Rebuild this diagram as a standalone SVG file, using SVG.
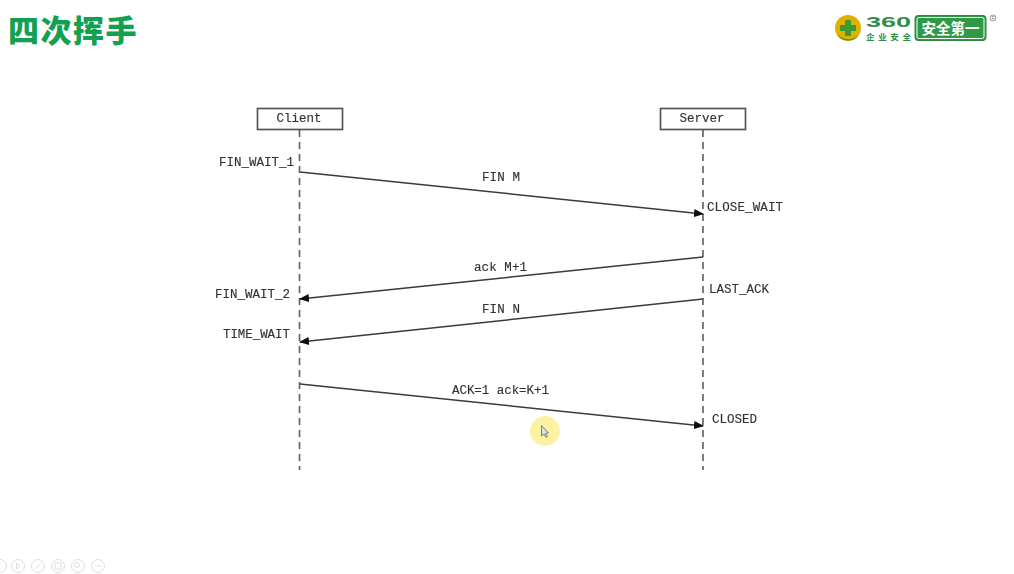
<svg xmlns="http://www.w3.org/2000/svg" width="1014" height="574" viewBox="0 0 1014 574">
<style>
.t{font-family:"Liberation Mono","DejaVu Sans Mono",monospace;font-size:12.5px;fill:#333;stroke:#333;stroke-width:0.15}
.m{text-anchor:middle}
.box{fill:#fff;stroke:#555;stroke-width:1.7}
.life{stroke:#666;stroke-width:1.7;stroke-dasharray:7 5;fill:none}
.msg{stroke:#3a3a3a;stroke-width:1.5;fill:none;marker-end:url(#a)}
.c{fill:none;stroke:#dedede;stroke-width:1}
</style>
<defs>
<marker id="a" markerUnits="userSpaceOnUse" markerWidth="10" markerHeight="8" refX="9" refY="4" orient="auto"><path d="M0 0L10 4L0 8Z" fill="#111"/></marker>
<filter id="b" x="-5%" y="-5%" width="110%" height="110%"><feGaussianBlur stdDeviation="0.45"/></filter>
</defs>
<rect width="1014" height="574" fill="#fff"/>
<text x="8" y="42" font-family="'Noto Sans CJK SC',sans-serif" font-weight="900" font-size="31" letter-spacing="1.5" fill="#12a150">四次挥手</text>
<g id="logo">
<circle cx="848" cy="28" r="13" fill="#e2b100"/>
<path d="M837 34A13 13 0 0 0 859 35A15 15 0 0 1 837 34Z" fill="#2f9b3a"/>
<path d="M845 20h6v5h5v6h-5v5h-6v-5h-5v-6h5z" fill="#3c9a36"/>
<text x="866" y="27" font-family="'Liberation Sans',sans-serif" font-weight="700" font-size="14.500" textLength="45" lengthAdjust="spacingAndGlyphs" fill="#2f8f4a">360</text>
<text x="866" y="40" font-family="'Noto Sans CJK SC',sans-serif" font-weight="700" font-size="8.500" textLength="45" fill="#2f8f4a">企业安全</text>
<rect x="915" y="15.500" width="71" height="25" rx="3" fill="#2e9a45" stroke="#2a8a3e" stroke-width="1"/>
<rect x="917" y="17.500" width="67" height="21" rx="2" fill="none" stroke="#fff" stroke-width="1"/>
<text x="950.500" y="33.500" text-anchor="middle" font-family="'Noto Sans CJK SC',sans-serif" font-weight="700" font-size="14.500" fill="#fff">安全第一</text>
<circle cx="993" cy="18" r="3" fill="none" stroke="#777" stroke-width="0.7"/>
<text x="993" y="20" text-anchor="middle" font-family="'Liberation Sans',sans-serif" font-size="4.500" fill="#777">R</text>
</g>
<g filter="url(#b)">
<g id="connectors">
<line class="life" x1="299.500" y1="130" x2="299.500" y2="470"/>
<line class="life" x1="703" y1="130" x2="703" y2="470"/>
<line class="msg" x1="300" y1="172" x2="703" y2="214"/>
<line class="msg" x1="703" y1="257" x2="300" y2="299"/>
<line class="msg" x1="703" y1="299" x2="300" y2="342"/>
<line class="msg" x1="300" y1="384" x2="703" y2="426"/>
</g>
<g id="client"><rect class="box" x="257.500" y="108.500" width="85" height="21"/><text class="t m" x="299" y="122">Client</text></g>
<g id="server"><rect class="box" x="660.500" y="108.500" width="85" height="21"/><text class="t m" x="702" y="122">Server</text></g>
<g id="labels">
<text class="t" x="219" y="166" textLength="75">FIN_WAIT_1</text>
<text class="t" x="215" y="298" textLength="75">FIN_WAIT_2</text>
<text class="t" x="223" y="338" textLength="67">TIME_WAIT</text>
<text class="t" x="707" y="211" textLength="76">CLOSE_WAIT</text>
<text class="t" x="709" y="293" textLength="60">LAST_ACK</text>
<text class="t" x="712" y="423" textLength="45">CLOSED</text>
<text class="t" x="482" y="181" textLength="38">FIN M</text>
<text class="t" x="474" y="271" textLength="53">ack M+1</text>
<text class="t" x="482" y="313" textLength="38">FIN N</text>
<text class="t" x="452" y="394" textLength="97">ACK=1 ack=K+1</text>
</g>
</g>
<g id="cursor">
<circle cx="545" cy="431" r="15" fill="#fbf3a3"/>
<path d="M541.500 425.500V436L544 434L546 437.500L547.500 436.500L545.500 433.500L548.500 433Z" fill="#ddd" stroke="#666" stroke-width="0.8"/>
</g>
<g id="toolbar">
<circle class="c" cx="0" cy="566" r="6.500"/>
<circle class="c" cx="18" cy="566" r="6.500"/><path class="c" d="M16.500 563L20 566L16.500 569Z"/>
<circle class="c" cx="38" cy="566" r="6.500"/><path class="c" d="M35 569L41 563"/>
<circle class="c" cx="58" cy="566" r="6.500"/><rect class="c" x="55" y="563" width="6" height="6"/>
<circle class="c" cx="78" cy="566" r="6.500"/><circle class="c" cx="77" cy="565" r="2.500"/>
<circle class="c" cx="98" cy="566" r="6.500"/><path class="c" d="M95 566H101"/>
</g>
</svg>
